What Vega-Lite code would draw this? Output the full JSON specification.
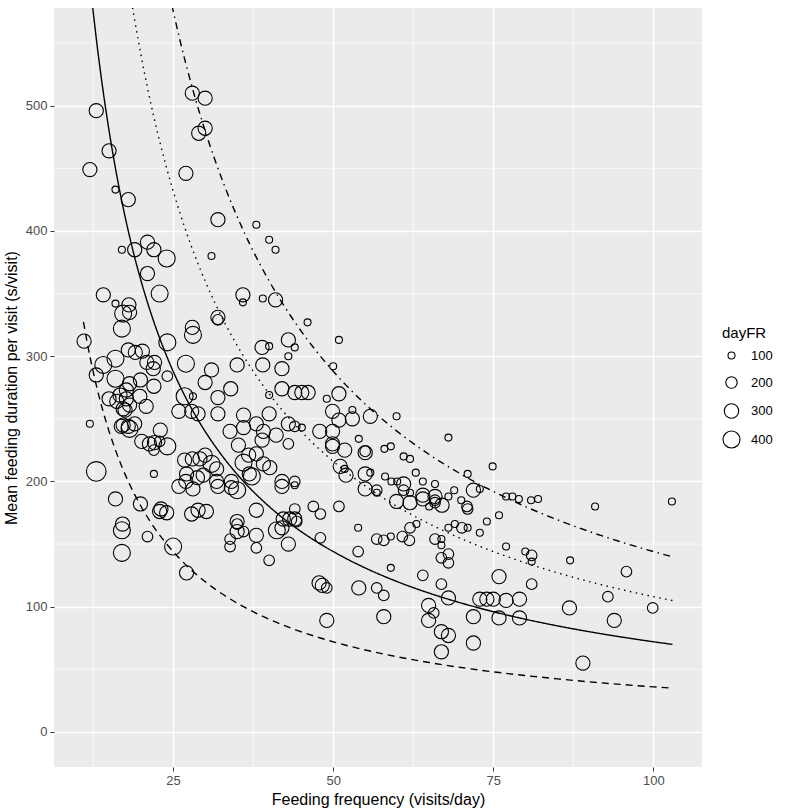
{
  "$schema": "https://vega.github.io/schema/vega-lite/v6.json",
  "width": 648,
  "height": 759,
  "autosize": {"type": "none"},
  "padding": {"left": 54, "top": 8, "right": 83, "bottom": 44},
  "background": "white",
  "config": {
    "font": "Liberation Sans",
    "view": {"fill": "#EBEBEB", "stroke": null},
    "axis": {
      "grid": true, "gridColor": "white", "gridWidth": 1.4,
      "domain": false, "tickColor": "#333333", "tickSize": 4, "tickWidth": 1,
      "labelColor": "#4D4D4D", "labelFontSize": 13, "labelPadding": 3,
      "titleFontSize": 16, "titleFontWeight": "normal", "titleColor": "black"
    },
    "axisX": {"titlePadding": 4},
    "axisY": {"titlePadding": 6}
  },
  "datasets": {
    "minorX": [{"x": 12.5}, {"x": 37.5}, {"x": 62.5}, {"x": 87.5}],
    "minorY": [{"y": 50}, {"y": 150}, {"y": 250}, {"y": 350}, {"y": 450}, {"y": 550}],
    "curves": [
      {"k": "3600", "x": 11, "y": 327.3}, {"k": "3600", "x": 12, "y": 300}, {"k": "3600", "x": 13, "y": 276.9}, {"k": "3600", "x": 14, "y": 257.1},
      {"k": "3600", "x": 15, "y": 240}, {"k": "3600", "x": 16, "y": 225}, {"k": "3600", "x": 17, "y": 211.8}, {"k": "3600", "x": 18, "y": 200},
      {"k": "3600", "x": 19, "y": 189.5}, {"k": "3600", "x": 20, "y": 180}, {"k": "3600", "x": 22, "y": 163.6}, {"k": "3600", "x": 24, "y": 150},
      {"k": "3600", "x": 26, "y": 138.5}, {"k": "3600", "x": 28, "y": 128.6}, {"k": "3600", "x": 30, "y": 120}, {"k": "3600", "x": 33, "y": 109.1},
      {"k": "3600", "x": 36, "y": 100}, {"k": "3600", "x": 40, "y": 90}, {"k": "3600", "x": 44, "y": 81.8}, {"k": "3600", "x": 48, "y": 75},
      {"k": "3600", "x": 52, "y": 69.2}, {"k": "3600", "x": 56, "y": 64.3}, {"k": "3600", "x": 60, "y": 60}, {"k": "3600", "x": 65, "y": 55.4},
      {"k": "3600", "x": 70, "y": 51.4}, {"k": "3600", "x": 75, "y": 48}, {"k": "3600", "x": 80, "y": 45}, {"k": "3600", "x": 85, "y": 42.4},
      {"k": "3600", "x": 90, "y": 40}, {"k": "3600", "x": 95, "y": 37.9}, {"k": "3600", "x": 100, "y": 36}, {"k": "3600", "x": 103, "y": 35},
      {"k": "7200", "x": 11, "y": 654.5}, {"k": "7200", "x": 12, "y": 600}, {"k": "7200", "x": 13, "y": 553.8}, {"k": "7200", "x": 14, "y": 514.3},
      {"k": "7200", "x": 15, "y": 480}, {"k": "7200", "x": 16, "y": 450}, {"k": "7200", "x": 17, "y": 423.5}, {"k": "7200", "x": 18, "y": 400},
      {"k": "7200", "x": 19, "y": 378.9}, {"k": "7200", "x": 20, "y": 360}, {"k": "7200", "x": 22, "y": 327.3}, {"k": "7200", "x": 24, "y": 300},
      {"k": "7200", "x": 26, "y": 276.9}, {"k": "7200", "x": 28, "y": 257.1}, {"k": "7200", "x": 30, "y": 240}, {"k": "7200", "x": 33, "y": 218.2},
      {"k": "7200", "x": 36, "y": 200}, {"k": "7200", "x": 40, "y": 180}, {"k": "7200", "x": 44, "y": 163.6}, {"k": "7200", "x": 48, "y": 150},
      {"k": "7200", "x": 52, "y": 138.5}, {"k": "7200", "x": 56, "y": 128.6}, {"k": "7200", "x": 60, "y": 120}, {"k": "7200", "x": 65, "y": 110.8},
      {"k": "7200", "x": 70, "y": 102.9}, {"k": "7200", "x": 75, "y": 96}, {"k": "7200", "x": 80, "y": 90}, {"k": "7200", "x": 85, "y": 84.7},
      {"k": "7200", "x": 90, "y": 80}, {"k": "7200", "x": 95, "y": 75.8}, {"k": "7200", "x": 100, "y": 72}, {"k": "7200", "x": 103, "y": 69.9},
      {"k": "10800", "x": 17, "y": 635.3}, {"k": "10800", "x": 18, "y": 600}, {"k": "10800", "x": 19, "y": 568.4}, {"k": "10800", "x": 20, "y": 540},
      {"k": "10800", "x": 22, "y": 490.9}, {"k": "10800", "x": 24, "y": 450}, {"k": "10800", "x": 26, "y": 415.4}, {"k": "10800", "x": 28, "y": 385.7},
      {"k": "10800", "x": 30, "y": 360}, {"k": "10800", "x": 33, "y": 327.3}, {"k": "10800", "x": 36, "y": 300}, {"k": "10800", "x": 40, "y": 270},
      {"k": "10800", "x": 44, "y": 245.5}, {"k": "10800", "x": 48, "y": 225}, {"k": "10800", "x": 52, "y": 207.7}, {"k": "10800", "x": 56, "y": 192.9},
      {"k": "10800", "x": 60, "y": 180}, {"k": "10800", "x": 65, "y": 166.2}, {"k": "10800", "x": 70, "y": 154.3}, {"k": "10800", "x": 75, "y": 144},
      {"k": "10800", "x": 80, "y": 135}, {"k": "10800", "x": 85, "y": 127.1}, {"k": "10800", "x": 90, "y": 120}, {"k": "10800", "x": 95, "y": 113.7},
      {"k": "10800", "x": 100, "y": 108}, {"k": "10800", "x": 103, "y": 104.9},
      {"k": "14400", "x": 23, "y": 626.1}, {"k": "14400", "x": 24, "y": 600}, {"k": "14400", "x": 26, "y": 553.8}, {"k": "14400", "x": 28, "y": 514.3},
      {"k": "14400", "x": 30, "y": 480}, {"k": "14400", "x": 33, "y": 436.4}, {"k": "14400", "x": 36, "y": 400}, {"k": "14400", "x": 40, "y": 360},
      {"k": "14400", "x": 44, "y": 327.3}, {"k": "14400", "x": 48, "y": 300}, {"k": "14400", "x": 52, "y": 276.9}, {"k": "14400", "x": 56, "y": 257.1},
      {"k": "14400", "x": 60, "y": 240}, {"k": "14400", "x": 65, "y": 221.5}, {"k": "14400", "x": 70, "y": 205.7}, {"k": "14400", "x": 75, "y": 192},
      {"k": "14400", "x": 80, "y": 180}, {"k": "14400", "x": 85, "y": 169.4}, {"k": "14400", "x": 90, "y": 160}, {"k": "14400", "x": 95, "y": 151.6},
      {"k": "14400", "x": 100, "y": 144}, {"k": "14400", "x": 103, "y": 139.8}
    ],
    "visits": [
      {"x": 13.0, "y": 496, "dayFR": 290}, {"x": 15.0, "y": 464, "dayFR": 290}, {"x": 12.0, "y": 449, "dayFR": 290}, {"x": 16.0, "y": 433, "dayFR": 100},
      {"x": 18.0, "y": 425, "dayFR": 290}, {"x": 28.0, "y": 510, "dayFR": 290}, {"x": 30.0, "y": 506, "dayFR": 290}, {"x": 30.0, "y": 482, "dayFR": 290},
      {"x": 29.0, "y": 478, "dayFR": 290}, {"x": 27.0, "y": 446, "dayFR": 290}, {"x": 32.0, "y": 409, "dayFR": 290}, {"x": 38.0, "y": 405, "dayFR": 100},
      {"x": 40.0, "y": 393, "dayFR": 100}, {"x": 41.0, "y": 385, "dayFR": 100}, {"x": 31.0, "y": 380, "dayFR": 100}, {"x": 17.0, "y": 385, "dayFR": 100},
      {"x": 19.0, "y": 385, "dayFR": 290}, {"x": 21.0, "y": 391, "dayFR": 290}, {"x": 22.0, "y": 385, "dayFR": 290}, {"x": 24.0, "y": 378, "dayFR": 400},
      {"x": 21.0, "y": 366, "dayFR": 290}, {"x": 14.1, "y": 349, "dayFR": 290}, {"x": 22.9, "y": 350, "dayFR": 400}, {"x": 16.0, "y": 342, "dayFR": 100},
      {"x": 18.1, "y": 341, "dayFR": 290}, {"x": 17.2, "y": 334, "dayFR": 400}, {"x": 18.2, "y": 335, "dayFR": 290}, {"x": 17.0, "y": 322, "dayFR": 400},
      {"x": 11.1, "y": 312, "dayFR": 290}, {"x": 28.0, "y": 323, "dayFR": 290}, {"x": 28.1, "y": 317, "dayFR": 400}, {"x": 32.0, "y": 331, "dayFR": 290},
      {"x": 32.0, "y": 329, "dayFR": 180}, {"x": 24.1, "y": 311, "dayFR": 400}, {"x": 18.0, "y": 305, "dayFR": 290}, {"x": 19.1, "y": 303, "dayFR": 290},
      {"x": 20.2, "y": 304, "dayFR": 290}, {"x": 16.0, "y": 298, "dayFR": 400}, {"x": 14.1, "y": 293, "dayFR": 400}, {"x": 20.9, "y": 295, "dayFR": 290},
      {"x": 22.1, "y": 295, "dayFR": 290}, {"x": 27.0, "y": 294, "dayFR": 400}, {"x": 31.0, "y": 289, "dayFR": 290}, {"x": 21.9, "y": 290, "dayFR": 290},
      {"x": 13.0, "y": 285, "dayFR": 290}, {"x": 35.9, "y": 349, "dayFR": 290}, {"x": 35.9, "y": 343, "dayFR": 100}, {"x": 39.0, "y": 346, "dayFR": 100},
      {"x": 41.0, "y": 345, "dayFR": 290}, {"x": 46.0, "y": 327, "dayFR": 100}, {"x": 50.9, "y": 313, "dayFR": 100}, {"x": 50.0, "y": 292, "dayFR": 100},
      {"x": 16.0, "y": 282, "dayFR": 400}, {"x": 18.2, "y": 278, "dayFR": 290}, {"x": 19.9, "y": 281, "dayFR": 290}, {"x": 22.0, "y": 276, "dayFR": 290},
      {"x": 24.1, "y": 284, "dayFR": 180}, {"x": 35.0, "y": 293, "dayFR": 290}, {"x": 39.0, "y": 293, "dayFR": 290}, {"x": 42.0, "y": 290, "dayFR": 290},
      {"x": 38.9, "y": 307, "dayFR": 290}, {"x": 40.0, "y": 308, "dayFR": 100}, {"x": 43.0, "y": 313, "dayFR": 290}, {"x": 44.0, "y": 307, "dayFR": 100},
      {"x": 43.0, "y": 300, "dayFR": 100}, {"x": 30.0, "y": 279, "dayFR": 290}, {"x": 34.0, "y": 274, "dayFR": 290}, {"x": 32.0, "y": 267, "dayFR": 290},
      {"x": 28.1, "y": 268, "dayFR": 100}, {"x": 26.8, "y": 268, "dayFR": 400}, {"x": 25.9, "y": 256, "dayFR": 290}, {"x": 27.9, "y": 256, "dayFR": 290},
      {"x": 28.9, "y": 254, "dayFR": 290}, {"x": 32.0, "y": 254, "dayFR": 290}, {"x": 15.0, "y": 266, "dayFR": 290}, {"x": 16.2, "y": 264, "dayFR": 290},
      {"x": 17.7, "y": 266, "dayFR": 290}, {"x": 18.2, "y": 261, "dayFR": 290}, {"x": 20.8, "y": 260, "dayFR": 290}, {"x": 17.5, "y": 257, "dayFR": 290},
      {"x": 12.0, "y": 246, "dayFR": 100}, {"x": 16.9, "y": 244, "dayFR": 290}, {"x": 18.0, "y": 244, "dayFR": 290}, {"x": 19.0, "y": 246, "dayFR": 290},
      {"x": 23.0, "y": 241, "dayFR": 290}, {"x": 20.1, "y": 232, "dayFR": 290}, {"x": 21.3, "y": 230, "dayFR": 290}, {"x": 22.1, "y": 231, "dayFR": 290},
      {"x": 22.9, "y": 232, "dayFR": 180}, {"x": 24.1, "y": 228, "dayFR": 400}, {"x": 22.0, "y": 225, "dayFR": 180}, {"x": 22.0, "y": 206, "dayFR": 100},
      {"x": 13.0, "y": 208, "dayFR": 520}, {"x": 16.0, "y": 186, "dayFR": 290}, {"x": 19.9, "y": 182, "dayFR": 290}, {"x": 23.1, "y": 178, "dayFR": 290},
      {"x": 26.8, "y": 217, "dayFR": 290}, {"x": 28.0, "y": 218, "dayFR": 290}, {"x": 30.0, "y": 221, "dayFR": 290}, {"x": 31.0, "y": 214, "dayFR": 400},
      {"x": 31.8, "y": 210, "dayFR": 290}, {"x": 27.1, "y": 206, "dayFR": 290}, {"x": 25.9, "y": 196, "dayFR": 290}, {"x": 28.1, "y": 194, "dayFR": 290},
      {"x": 28.8, "y": 203, "dayFR": 290}, {"x": 32.0, "y": 196, "dayFR": 290}, {"x": 34.1, "y": 200, "dayFR": 290}, {"x": 34.1, "y": 195, "dayFR": 290},
      {"x": 35.0, "y": 193, "dayFR": 400}, {"x": 36.0, "y": 215, "dayFR": 400}, {"x": 36.9, "y": 206, "dayFR": 290}, {"x": 37.3, "y": 204, "dayFR": 400},
      {"x": 38.0, "y": 222, "dayFR": 290}, {"x": 39.1, "y": 214, "dayFR": 290}, {"x": 40.1, "y": 211, "dayFR": 290}, {"x": 33.9, "y": 240, "dayFR": 290},
      {"x": 35.2, "y": 229, "dayFR": 290}, {"x": 36.0, "y": 243, "dayFR": 290}, {"x": 36.0, "y": 253, "dayFR": 290}, {"x": 38.0, "y": 246, "dayFR": 290},
      {"x": 39.1, "y": 240, "dayFR": 290}, {"x": 38.9, "y": 233, "dayFR": 290}, {"x": 40.0, "y": 254, "dayFR": 290}, {"x": 41.1, "y": 237, "dayFR": 290},
      {"x": 43.0, "y": 246, "dayFR": 290}, {"x": 43.0, "y": 230, "dayFR": 180}, {"x": 44.0, "y": 244, "dayFR": 180}, {"x": 45.1, "y": 243, "dayFR": 100},
      {"x": 42.0, "y": 200, "dayFR": 290}, {"x": 42.0, "y": 196, "dayFR": 290}, {"x": 44.0, "y": 200, "dayFR": 180}, {"x": 44.0, "y": 197, "dayFR": 100},
      {"x": 40.0, "y": 269, "dayFR": 100}, {"x": 42.0, "y": 274, "dayFR": 290}, {"x": 44.0, "y": 271, "dayFR": 290}, {"x": 45.1, "y": 271, "dayFR": 290},
      {"x": 46.1, "y": 271, "dayFR": 290}, {"x": 49.0, "y": 266, "dayFR": 100}, {"x": 50.9, "y": 270, "dayFR": 290}, {"x": 49.9, "y": 256, "dayFR": 290},
      {"x": 50.9, "y": 249, "dayFR": 290}, {"x": 53.0, "y": 250, "dayFR": 290}, {"x": 53.0, "y": 257, "dayFR": 100}, {"x": 47.9, "y": 240, "dayFR": 290},
      {"x": 49.9, "y": 240, "dayFR": 290}, {"x": 49.9, "y": 230, "dayFR": 290}, {"x": 49.9, "y": 228, "dayFR": 290}, {"x": 51.8, "y": 225, "dayFR": 290},
      {"x": 54.0, "y": 234, "dayFR": 100}, {"x": 55.0, "y": 224, "dayFR": 180}, {"x": 55.0, "y": 223, "dayFR": 290}, {"x": 55.8, "y": 252, "dayFR": 290},
      {"x": 51.1, "y": 212, "dayFR": 290}, {"x": 51.8, "y": 210, "dayFR": 100}, {"x": 52.0, "y": 205, "dayFR": 290}, {"x": 55.0, "y": 206, "dayFR": 290},
      {"x": 55.8, "y": 207, "dayFR": 100}, {"x": 55.0, "y": 194, "dayFR": 290}, {"x": 56.8, "y": 193, "dayFR": 180}, {"x": 16.7, "y": 269, "dayFR": 290},
      {"x": 17.7, "y": 273, "dayFR": 290}, {"x": 19.8, "y": 268, "dayFR": 290}, {"x": 17.2, "y": 258, "dayFR": 290}, {"x": 17.2, "y": 245, "dayFR": 290},
      {"x": 18.2, "y": 242, "dayFR": 400}, {"x": 22.9, "y": 176, "dayFR": 290}, {"x": 24.0, "y": 175, "dayFR": 290}, {"x": 17.1, "y": 166, "dayFR": 290},
      {"x": 29.2, "y": 218, "dayFR": 290}, {"x": 27.0, "y": 200, "dayFR": 290}, {"x": 29.7, "y": 205, "dayFR": 290}, {"x": 31.8, "y": 200, "dayFR": 290},
      {"x": 27.9, "y": 174, "dayFR": 290}, {"x": 28.9, "y": 177, "dayFR": 290}, {"x": 30.2, "y": 176, "dayFR": 290}, {"x": 17.0, "y": 161, "dayFR": 400},
      {"x": 17.0, "y": 143, "dayFR": 400}, {"x": 21.0, "y": 156, "dayFR": 180}, {"x": 25.0, "y": 148, "dayFR": 400}, {"x": 27.1, "y": 127, "dayFR": 290},
      {"x": 35.0, "y": 166, "dayFR": 180}, {"x": 35.0, "y": 160, "dayFR": 290}, {"x": 36.0, "y": 160, "dayFR": 180}, {"x": 33.9, "y": 154, "dayFR": 180},
      {"x": 33.9, "y": 148, "dayFR": 180}, {"x": 38.0, "y": 177, "dayFR": 290}, {"x": 38.0, "y": 157, "dayFR": 290}, {"x": 38.0, "y": 147, "dayFR": 180},
      {"x": 40.0, "y": 137, "dayFR": 180}, {"x": 41.2, "y": 161, "dayFR": 400}, {"x": 42.0, "y": 163, "dayFR": 290}, {"x": 43.0, "y": 150, "dayFR": 290},
      {"x": 42.2, "y": 170, "dayFR": 290}, {"x": 43.2, "y": 170, "dayFR": 290}, {"x": 44.0, "y": 170, "dayFR": 290}, {"x": 44.3, "y": 168, "dayFR": 180},
      {"x": 44.0, "y": 178, "dayFR": 180}, {"x": 46.9, "y": 180, "dayFR": 180}, {"x": 48.0, "y": 174, "dayFR": 180}, {"x": 50.9, "y": 180, "dayFR": 180},
      {"x": 48.0, "y": 155, "dayFR": 180}, {"x": 53.9, "y": 163, "dayFR": 100}, {"x": 53.9, "y": 144, "dayFR": 180}, {"x": 56.8, "y": 154, "dayFR": 180},
      {"x": 47.8, "y": 119, "dayFR": 290}, {"x": 48.3, "y": 117, "dayFR": 290}, {"x": 49.0, "y": 115, "dayFR": 180}, {"x": 49.0, "y": 89, "dayFR": 290},
      {"x": 54.0, "y": 115, "dayFR": 290}, {"x": 56.8, "y": 115, "dayFR": 180}, {"x": 57.9, "y": 153, "dayFR": 180}, {"x": 59.0, "y": 156, "dayFR": 100},
      {"x": 60.8, "y": 156, "dayFR": 180}, {"x": 61.9, "y": 153, "dayFR": 180}, {"x": 62.0, "y": 163, "dayFR": 180}, {"x": 63.0, "y": 166, "dayFR": 100},
      {"x": 65.9, "y": 154, "dayFR": 180}, {"x": 66.9, "y": 154, "dayFR": 100}, {"x": 66.9, "y": 149, "dayFR": 100}, {"x": 68.0, "y": 163, "dayFR": 100},
      {"x": 69.0, "y": 166, "dayFR": 100}, {"x": 70.1, "y": 163, "dayFR": 180}, {"x": 71.0, "y": 163, "dayFR": 100}, {"x": 71.0, "y": 178, "dayFR": 180},
      {"x": 72.9, "y": 159, "dayFR": 100}, {"x": 74.0, "y": 168, "dayFR": 100}, {"x": 75.9, "y": 173, "dayFR": 100}, {"x": 66.9, "y": 139, "dayFR": 180},
      {"x": 68.0, "y": 142, "dayFR": 180}, {"x": 68.0, "y": 135, "dayFR": 180}, {"x": 77.0, "y": 148, "dayFR": 100}, {"x": 80.0, "y": 144, "dayFR": 100},
      {"x": 81.0, "y": 141, "dayFR": 180}, {"x": 81.0, "y": 136, "dayFR": 100}, {"x": 87.0, "y": 137, "dayFR": 100}, {"x": 90.9, "y": 180, "dayFR": 100},
      {"x": 102.9, "y": 184, "dayFR": 100}, {"x": 95.8, "y": 128, "dayFR": 180}, {"x": 92.9, "y": 108, "dayFR": 180}, {"x": 99.9, "y": 99, "dayFR": 180},
      {"x": 86.9, "y": 99, "dayFR": 290}, {"x": 93.9, "y": 89, "dayFR": 290}, {"x": 89.0, "y": 55, "dayFR": 290}, {"x": 57.9, "y": 109, "dayFR": 180},
      {"x": 57.9, "y": 92, "dayFR": 290}, {"x": 64.0, "y": 125, "dayFR": 180}, {"x": 64.9, "y": 101, "dayFR": 290}, {"x": 65.7, "y": 95, "dayFR": 180},
      {"x": 64.9, "y": 89, "dayFR": 290}, {"x": 66.9, "y": 118, "dayFR": 180}, {"x": 68.0, "y": 107, "dayFR": 290}, {"x": 66.9, "y": 80, "dayFR": 290},
      {"x": 68.0, "y": 77, "dayFR": 290}, {"x": 66.9, "y": 64, "dayFR": 290}, {"x": 71.9, "y": 92, "dayFR": 290}, {"x": 71.9, "y": 71, "dayFR": 290},
      {"x": 75.9, "y": 124, "dayFR": 290}, {"x": 72.9, "y": 106, "dayFR": 290}, {"x": 74.0, "y": 106, "dayFR": 290}, {"x": 75.0, "y": 106, "dayFR": 290},
      {"x": 77.0, "y": 105, "dayFR": 290}, {"x": 79.1, "y": 106, "dayFR": 290}, {"x": 75.9, "y": 91, "dayFR": 290}, {"x": 79.1, "y": 91, "dayFR": 290},
      {"x": 81.0, "y": 118, "dayFR": 180}, {"x": 59.0, "y": 131, "dayFR": 100}, {"x": 58.0, "y": 226, "dayFR": 100}, {"x": 59.0, "y": 228, "dayFR": 100},
      {"x": 36.8, "y": 221, "dayFR": 290}, {"x": 58.1, "y": 204, "dayFR": 100}, {"x": 59.1, "y": 200, "dayFR": 100}, {"x": 35.0, "y": 168, "dayFR": 290},
      {"x": 59.9, "y": 252, "dayFR": 100}, {"x": 68.0, "y": 235, "dayFR": 100}, {"x": 61.0, "y": 220, "dayFR": 100}, {"x": 62.0, "y": 218, "dayFR": 100},
      {"x": 62.9, "y": 207, "dayFR": 100}, {"x": 65.9, "y": 198, "dayFR": 100}, {"x": 64.0, "y": 200, "dayFR": 100}, {"x": 60.0, "y": 200, "dayFR": 100},
      {"x": 61.0, "y": 198, "dayFR": 290}, {"x": 61.0, "y": 193, "dayFR": 180}, {"x": 56.8, "y": 191, "dayFR": 100}, {"x": 62.0, "y": 191, "dayFR": 100},
      {"x": 64.0, "y": 189, "dayFR": 290}, {"x": 64.0, "y": 186, "dayFR": 290}, {"x": 65.9, "y": 188, "dayFR": 290}, {"x": 65.9, "y": 185, "dayFR": 180},
      {"x": 68.0, "y": 188, "dayFR": 100}, {"x": 68.9, "y": 193, "dayFR": 100}, {"x": 70.0, "y": 185, "dayFR": 100}, {"x": 71.9, "y": 193, "dayFR": 290},
      {"x": 72.9, "y": 194, "dayFR": 100}, {"x": 71.0, "y": 206, "dayFR": 100}, {"x": 74.9, "y": 212, "dayFR": 100}, {"x": 77.0, "y": 188, "dayFR": 100},
      {"x": 78.0, "y": 188, "dayFR": 100}, {"x": 79.0, "y": 186, "dayFR": 100}, {"x": 80.9, "y": 185, "dayFR": 100}, {"x": 82.0, "y": 186, "dayFR": 100},
      {"x": 59.9, "y": 184, "dayFR": 290}, {"x": 62.0, "y": 183, "dayFR": 290}, {"x": 65.9, "y": 183, "dayFR": 180}, {"x": 70.9, "y": 180, "dayFR": 180},
      {"x": 67.0, "y": 181, "dayFR": 290}, {"x": 65.0, "y": 180, "dayFR": 100}
    ]
  },
  "layer": [
    {
      "data": {"name": "minorX"},
      "mark": {"type": "rule", "color": "white", "strokeWidth": 0.7},
      "encoding": {
        "x": {"field": "x", "type": "quantitative", "scale": {"domain": [6.4, 107.6], "nice": false, "zero": false},
              "axis": {"values": [25, 50, 75, 100]}, "title": "Feeding frequency (visits/day)"}
      }
    },
    {
      "data": {"name": "minorY"},
      "mark": {"type": "rule", "color": "white", "strokeWidth": 0.7},
      "encoding": {
        "y": {"field": "y", "type": "quantitative", "scale": {"domain": [-28, 578], "nice": false, "zero": false},
              "axis": {"values": [0, 100, 200, 300, 400, 500]}, "title": "Mean feeding duration per visit (s/visit)"}
      }
    },
    {
      "data": {"name": "curves"},
      "mark": {"type": "line", "color": "black", "strokeWidth": 1.4, "clip": true, "interpolate": "monotone"},
      "encoding": {
        "x": {"field": "x", "type": "quantitative", "scale": {"domain": [6.4, 107.6], "nice": false, "zero": false},
              "axis": {"values": [25, 50, 75, 100]}, "title": "Feeding frequency (visits/day)"},
        "y": {"field": "y", "type": "quantitative", "scale": {"domain": [-28, 578], "nice": false, "zero": false},
              "axis": {"values": [0, 100, 200, 300, 400, 500]}, "title": "Mean feeding duration per visit (s/visit)"},
        "strokeDash": {
          "field": "k", "type": "nominal", "legend": null,
          "scale": {"domain": ["3600", "7200", "10800", "14400"], "range": [[7, 5], [1, 0], [1.5, 4.5], [1.5, 4.5, 7, 4.5]]}
        }
      }
    },
    {
      "data": {"name": "visits"},
      "mark": {"type": "point", "shape": "circle", "filled": false, "color": "black", "strokeWidth": 1.1, "opacity": 1},
      "encoding": {
        "x": {"field": "x", "type": "quantitative", "scale": {"domain": [6.4, 107.6], "nice": false, "zero": false},
              "axis": {"values": [25, 50, 75, 100]}, "title": "Feeding frequency (visits/day)"},
        "y": {"field": "y", "type": "quantitative", "scale": {"domain": [-28, 578], "nice": false, "zero": false},
              "axis": {"values": [0, 100, 200, 300, 400, 500]}, "title": "Mean feeding duration per visit (s/visit)"},
        "size": {
          "field": "dayFR", "type": "quantitative",
          "scale": {"domain": [50, 550], "range": [9, 409], "zero": false},
          "legend": {
            "title": "dayFR", "values": [100, 200, 300, 400],
            "orient": "none", "legendX": 668, "legendY": 318,
            "titleFontSize": 15, "titleFontWeight": "normal", "titleColor": "black", "titlePadding": 8,
            "labelFontSize": 13, "labelColor": "black", "labelOffset": 10,
            "rowPadding": 4, "gridAlign": "all",
            "symbolStrokeColor": "black", "symbolStrokeWidth": 1.1, "symbolFillColor": "transparent"
          }
        }
      }
    }
  ]
}
